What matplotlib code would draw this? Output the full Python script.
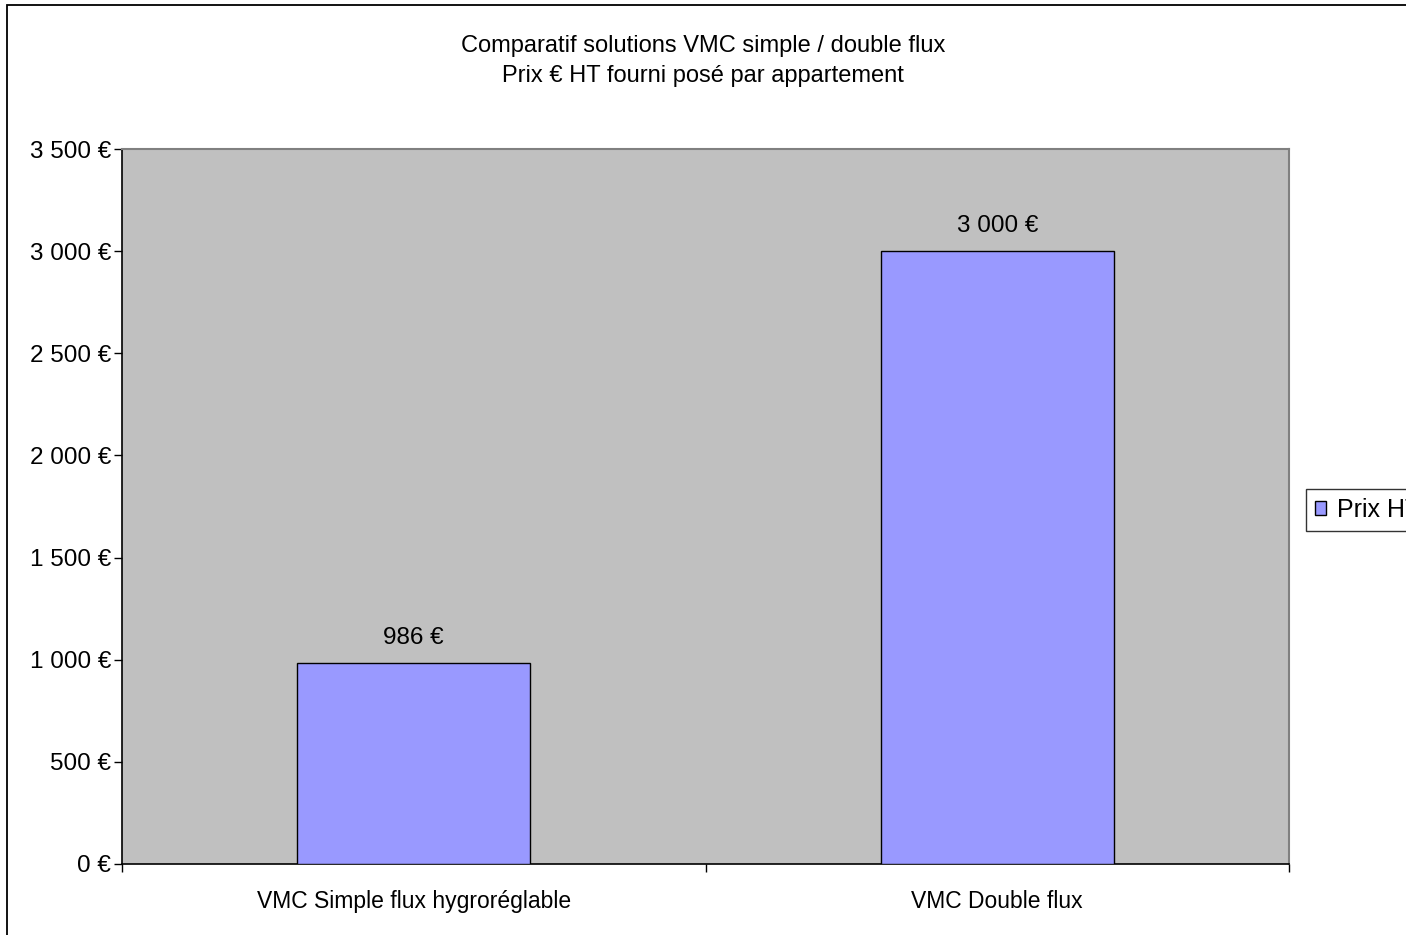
import matplotlib
matplotlib.use("Agg")
import matplotlib.pyplot as plt
from matplotlib.patches import Rectangle
import matplotlib.ticker as mticker

categories = ["VMC Simple flux hygroréglable", "VMC Double flux"]
values = [986, 3000]
value_labels = ["986 €", "3 000 €"]
series_name = "Prix HT"
title_lines = ["Comparatif solutions VMC simple / double flux",
               "Prix € HT fourni posé par appartement"]

plt.rcParams['font.family'] = ['Liberation Sans', 'DejaVu Sans']
W, H = 1406, 935
fig = plt.figure(figsize=(W/100, H/100), dpi=100)
fig.patch.set_facecolor('white')

# chart area border (clipped at right/bottom)
fig.patches.append(Rectangle((7/W, -0.1), 1.2, 1 - 5/H + 0.1, transform=fig.transFigure,
                             fill=False, edgecolor='black', lw=1.3, zorder=0))

L, R, T, B = 122, 1289, 149, 864
ax = fig.add_axes([L/W, 1 - B/H, (R-L)/W, (B-T)/H])
ax.set_facecolor('#C0C0C0')

FS = 17
x = list(range(len(categories)))
bars = ax.bar(x, values, width=0.4, color='#9999FF', edgecolor='black', lw=1.0,
              label=series_name, zorder=3)
ax.set_xlim(-0.5, len(categories) - 0.5)
ax.set_ylim(0, 3500)
ax.yaxis.set_major_locator(mticker.MultipleLocator(500))
ax.yaxis.set_major_formatter(mticker.FuncFormatter(
    lambda v, p: (f"{int(v):,}".replace(",", " ")) + " €"))

ax.set_xticks([i - 0.5 for i in range(len(categories) + 1)])
ax.set_xticklabels([])
ax.set_xticks(x, minor=True)
ax.set_xticklabels(categories, minor=True)
ax.tick_params(axis='x', which='minor', length=0, pad=19, labelsize=FS - 0.5)
ax.tick_params(axis='x', which='major', length=6, direction='out', width=1)
ax.tick_params(axis='y', length=6, direction='out', width=1, labelsize=FS + 0.5, pad=2)

for side in ['top', 'right']:
    ax.spines[side].set_color('#808080')
    ax.spines[side].set_linewidth(1.5)
for side in ['left', 'bottom']:
    ax.spines[side].set_color('black')
    ax.spines[side].set_linewidth(1.2)

for b, lab in zip(bars, value_labels):
    ax.annotate(lab, (b.get_x() + b.get_width()/2, b.get_height()),
                xytext=(0, 25), textcoords='offset pixels', ha='center', va='center',
                fontsize=FS + 0.5)

fig.text(0.5, 1 - 46/H, title_lines[0], ha='center', va='center', fontsize=FS)
fig.text(0.5, 1 - 76/H, title_lines[1], ha='center', va='center', fontsize=FS)

leg = fig.legend(handles=[bars], labels=[series_name], loc='upper left',
                 bbox_to_anchor=(1306/W, 1 - 489/H), frameon=True, fancybox=False,
                 edgecolor='black', fontsize=FS + 1, handlelength=0.45, handleheight=0.45,
                 borderpad=0.35, handletextpad=0.45, borderaxespad=0)
leg.get_frame().set_linewidth(1.0)

fig.savefig("out.png", dpi=100)
